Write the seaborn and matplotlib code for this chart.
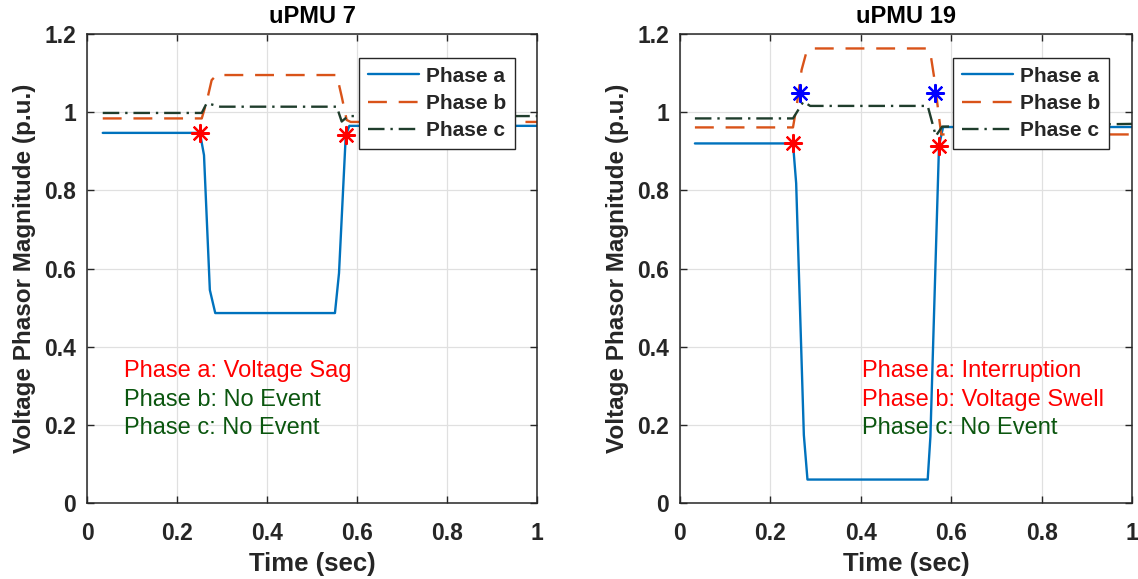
import numpy as np
import pandas as pd
import matplotlib
matplotlib.use("Agg")
import matplotlib.pyplot as plt
import seaborn as sns

# ---- uPMU 7 : per-phase voltage magnitude (p.u.) ----
t_a7 = [0.035, 0.251, 0.260, 0.273, 0.285, 0.551, 0.560, 0.575, 0.583, 1.0]
v_a7 = [0.947, 0.947, 0.890, 0.545, 0.486, 0.486, 0.588, 0.940, 0.965, 0.965]
t_b7 = [0.035, 0.255, 0.266, 0.277, 0.288, 0.555, 0.566, 0.577, 0.586, 1.0]
v_b7 = [0.984, 0.984, 1.027, 1.082, 1.095, 1.095, 1.040, 0.980, 0.975, 0.975]
t_c7 = [0.035, 0.255, 0.266, 0.296, 0.555, 0.566, 0.580, 1.0]
v_c7 = [0.998, 0.998, 1.023, 1.014, 1.014, 0.976, 0.990, 0.990]
# event start/end markers
red_t7 = [0.251, 0.575]
red_v7 = [0.947, 0.942]

# ---- uPMU 19 ----
t_a19 = [0.033, 0.250, 0.257, 0.274, 0.282, 0.548, 0.554, 0.573, 0.582, 1.0]
v_a19 = [0.920, 0.920, 0.818, 0.174, 0.060, 0.060, 0.170, 0.913, 0.962, 0.962]
t_b19 = [0.033, 0.250, 0.259, 0.269, 0.280, 0.295, 0.545, 0.554, 0.562, 0.573, 0.578, 1.0]
v_b19 = [0.961, 0.961, 1.023, 1.108, 1.155, 1.163, 1.163, 1.151, 1.091, 0.988, 0.943, 0.943]
t_c19 = [0.033, 0.250, 0.273, 0.288, 0.548, 0.566, 0.580, 1.0]
v_c19 = [0.984, 0.984, 1.027, 1.016, 1.016, 0.939, 0.963, 0.970]
red_t19 = [0.250, 0.573]
red_v19 = [0.920, 0.913]
blue_t19 = [0.265, 0.564]
blue_v19 = [1.050, 1.050]

phases = ["Phase a", "Phase b", "Phase c"]
titles = ["uPMU 7", "uPMU 19"]
event_text7 = ["Phase a: Voltage Sag", "Phase b: No Event", "Phase c: No Event"]
event_text19 = ["Phase a: Interruption", "Phase b: Voltage Swell", "Phase c: No Event"]
x_ticks = [0, 0.2, 0.4, 0.6, 0.8, 1.0]
y_ticks = [0, 0.2, 0.4, 0.6, 0.8, 1.0, 1.2]

sns.set_style("ticks")
plt.rcParams["font.family"] = ["Liberation Sans", "DejaVu Sans"]

palette = {"Phase a": "#0072BD", "Phase b": "#D95319", "Phase c": "#1f3d2c"}
dashes = {"Phase a": "", "Phase b": (8, 5), "Phase c": (7, 2.5, 1, 2.5)}
RED = "#ff0000"
GREEN = "#0b560f"
AX_COL = "#262626"


def long_frame(series):
    frames = []
    for name, (t, v) in zip(phases, series):
        frames.append(pd.DataFrame({"time": t, "value": v, "phase": name}))
    return pd.concat(frames, ignore_index=True)


def draw_panel(ax, series, title, red_pts, blue_pts, texts, text_colors, text_x):
    df = long_frame(series)
    sns.lineplot(data=df, x="time", y="value", hue="phase", style="phase",
                 palette=palette, dashes=dashes, hue_order=phases, style_order=phases,
                 estimator=None, sort=False, linewidth=1.7, legend=False, ax=ax)
    for pts, col in ((red_pts, RED), (blue_pts, "#0000ff")):
        if pts is None:
            continue
        sns.scatterplot(x=pts[0], y=pts[1], marker=(8, 2, 0), s=150, color=col,
                        edgecolor=col, linewidth=1.6, ax=ax, zorder=5, legend=False)

    ax.set_xlim(0, 1)
    ax.set_ylim(0, 1.2)
    ax.set_xticks(x_ticks)
    ax.set_yticks(y_ticks)
    ax.set_xticklabels([f"{v:g}" for v in x_ticks])
    ax.set_yticklabels([f"{v:g}" for v in y_ticks])
    ax.tick_params(direction="in", top=True, right=True, length=5, width=1,
                   color=AX_COL, labelsize=16.5)
    ax.tick_params(axis="x", pad=14)
    ax.tick_params(axis="y", pad=8)
    for lab in ax.get_xticklabels() + ax.get_yticklabels():
        lab.set_fontweight("bold")
        lab.set_color(AX_COL)
    ax.grid(True, color="#e0e0e0", linewidth=0.9)
    ax.set_axisbelow(True)
    for sp in ax.spines.values():
        sp.set_visible(True)
        sp.set_color(AX_COL)
        sp.set_linewidth(1.1)

    ax.set_xlabel("Time (sec)", fontsize=18.5, fontweight="bold", color=AX_COL, labelpad=5)
    ax.set_ylabel("Voltage Phasor Magnitude (p.u.)", fontsize=17.5, fontweight="bold",
                  color=AX_COL, labelpad=6)
    ax.set_title(title, fontsize=17, fontweight="bold", color="black", pad=8)

    leg = ax.legend(handles=ax.lines[:3], labels=phases, loc="upper left",
                    bbox_to_anchor=(0.604, 0.949), borderaxespad=0, frameon=True,
                    fancybox=False, framealpha=1, edgecolor=AX_COL,
                    prop={"weight": "bold", "size": 15}, handlelength=2.45,
                    handletextpad=0.35, labelspacing=0.39, borderpad=0.42)
    leg.get_frame().set_linewidth(1.0)

    for txt, col, yy in zip(texts, text_colors, [0.338, 0.264, 0.192]):
        ax.text(text_x, yy, txt, color=col, fontsize=17, va="center", ha="left")


fig = plt.figure(figsize=(11.38, 5.79), dpi=100)
ax1 = fig.add_axes([87 / 1138, 76 / 579, 450 / 1138, 469 / 579])
ax2 = fig.add_axes([680 / 1138, 76 / 579, 452 / 1138, 469 / 579])

draw_panel(ax1, [(t_a7, v_a7), (t_b7, v_b7), (t_c7, v_c7)], titles[0],
           (red_t7, red_v7), None, event_text7, [RED, GREEN, GREEN], 0.083)
draw_panel(ax2, [(t_a19, v_a19), (t_b19, v_b19), (t_c19, v_c19)], titles[1],
           (red_t19, red_v19), (blue_t19, blue_v19), event_text19, [RED, RED, GREEN], 0.402)

fig.savefig("out.png", dpi=100)
